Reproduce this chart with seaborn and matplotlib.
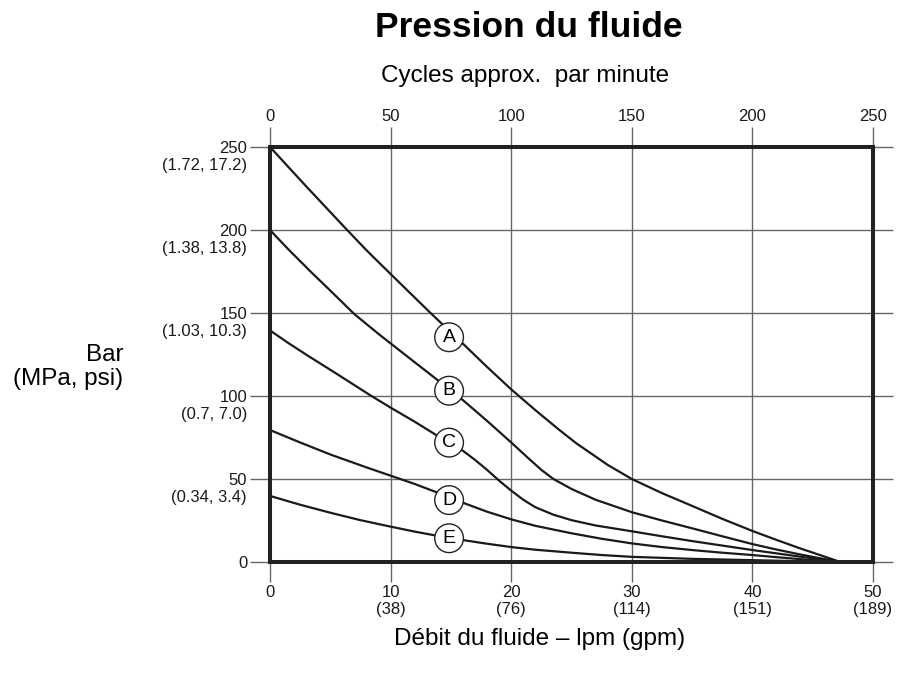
import numpy as np
import pandas as pd
import matplotlib
matplotlib.use("Agg")
import matplotlib.pyplot as plt
import seaborn as sns

# valeurs (débit en lpm, pression en bar)
x_a = [0, 3, 6.2, 8, 10, 13.1, 14.9, 16, 18, 20, 22, 24, 25.4, 28, 30, 32.5, 35, 37.5, 40, 42, 44, 46, 47.3]
y_a = [250, 226.3, 201.5, 187.8, 173.5, 151.5, 139, 131.5, 117.5, 104, 91.5, 79.5, 71.5, 58.5, 50, 41.5, 33.8, 26, 18.7, 13.3, 8.1, 3.2, 0]
x_b = [0, 1.5, 3.5, 5, 7, 9.1, 11, 14, 16, 18, 20, 21.5, 22.5, 23.5, 25, 27, 30, 32.5, 35, 37.5, 40, 42, 44, 46, 47.3]
y_b = [200, 188.5, 174, 163.5, 149.3, 136.8, 126, 109, 97.5, 85, 72, 62, 55.5, 50, 44, 37.5, 30, 25, 20.3, 15.5, 10.8, 7.5, 4.5, 1.7, 0]
x_c = [0, 1.5, 3.2, 5.5, 8.3, 10, 12, 14, 16, 17, 18, 19, 20, 21, 22, 23.5, 25, 27, 30, 32.5, 35, 37.5, 40, 42, 44, 46, 47.3]
y_c = [139.5, 132, 124, 113.5, 100.5, 93, 84.5, 75.5, 67, 61.5, 55.5, 49, 43, 37.5, 33, 28.5, 25.2, 22, 18.5, 15.5, 12.6, 9.9, 7.2, 5.2, 3.2, 1.3, 0]
x_d = [0, 2.5, 5.1, 8, 10, 12, 14, 16, 18, 20, 22, 25, 27.5, 30, 32.5, 35, 37.5, 40, 42, 44, 46, 47.3]
y_d = [79.5, 72, 64.5, 57, 52, 47, 41.5, 35.7, 30.3, 25.7, 21.8, 17.3, 14, 11.2, 9, 7.2, 5.6, 4.2, 2.9, 1.7, 0.6, 0]
x_e = [0, 2.5, 5.1, 7.5, 10, 12, 14, 16, 18, 20, 22, 25, 27.5, 30, 35, 40, 44, 47.3]
y_e = [39.8, 34.5, 29.5, 25.2, 21.3, 18.3, 15.6, 13.2, 11, 9, 7.4, 5.6, 4.2, 3.1, 1.9, 1.1, 0.45, 0]

curves = ["A", "B", "C", "D", "E"]
label_x = 14.85
label_y = [135.4, 103.2, 71.9, 37.3, 14.3]

x_ticks = [0, 10, 20, 30, 40, 50]
x_tick_labels = ["0", "10\n(38)", "20\n(76)", "30\n(114)", "40\n(151)", "50\n(189)"]
y_ticks = [0, 50, 100, 150, 200, 250]
y_sub_labels = ["", "(0.34, 3.4)", "(0.7, 7.0)", "(1.03, 10.3)", "(1.38, 13.8)", "(1.72, 17.2)"]
cycle_ticks = [0, 50, 100, 150, 200, 250]

frames = []
for name, xs, ys in zip(curves, [x_a, x_b, x_c, x_d, x_e], [y_a, y_b, y_c, y_d, y_e]):
    frames.append(pd.DataFrame({"debit": xs, "pression": ys, "courbe": name}))
df = pd.concat(frames, ignore_index=True)

sns.set_style("white")
plt.rcParams["font.family"] = ["Liberation Sans", "DejaVu Sans"]
plt.rcParams["text.color"] = "black"

fig = plt.figure(figsize=(9.08, 6.78), dpi=100)
ax = fig.add_axes([270 / 908, 1 - 562 / 678, 603 / 908, 415 / 678])

sns.lineplot(data=df, x="debit", y="pression", hue="courbe", units="courbe",
             estimator=None, sort=False, palette=["#1a1a1a"] * 5,
             linewidth=1.6, legend=False, ax=ax)

ax.set_xlim(0, 50)
ax.set_ylim(0, 250)
ax.set_xticks(x_ticks)
ax.set_xticklabels(x_tick_labels)
ax.set_yticks(y_ticks)
ax.set_yticklabels([str(v) for v in y_ticks])
ax.grid(True, color="#666666", linewidth=1)
ax.tick_params(axis="both", length=14.4, width=1, color="#666666",
               labelsize=12, labelcolor="#1a1a1a", pad=2)
ax.tick_params(axis="y", right=True, left=True)
ax.tick_params(axis="x", bottom=True)
ax.set_xlabel("")
ax.set_ylabel("")
for sp in ax.spines.values():
    sp.set_visible(True)
    sp.set_color("#222222")
    sp.set_linewidth(2.9)
    sp.set_zorder(5)

# sous-étiquettes MPa, psi
for v, lab in zip(y_ticks, y_sub_labels):
    if lab:
        ax.annotate(lab, xy=(0, v), xycoords=("axes fraction", "data"),
                    xytext=(-16.6, -13.5), textcoords="offset points",
                    ha="right", va="center", fontsize=12, color="#1a1a1a")

# axe du haut : cycles par minute
top = ax.secondary_xaxis("top", functions=(lambda q: q * 5, lambda c: c / 5))
top.set_xticks(cycle_ticks)
top.tick_params(length=14.4, width=1, color="#666666", labelsize=12,
                labelcolor="#1a1a1a", pad=2)
top.spines["top"].set_visible(False)

# repères A-E
for name, yv in zip(curves, label_y):
    ax.text(label_x, yv, name, ha="center", va="center", fontsize=14,
            color="black", zorder=6,
            bbox=dict(boxstyle="circle,pad=0.3", fc="white", ec="#222222", lw=1))

fig.text(529 / 908, 1 - 37 / 678, "Pression du fluide", ha="center", va="baseline",
         fontsize=25.5, fontweight="bold")
fig.text(525 / 908, 1 - 82 / 678, "Cycles approx.  par minute", ha="center",
         va="baseline", fontsize=17.5)
fig.text(123 / 908, 1 - 367 / 678, "Bar\n(MPa, psi)", ha="right", va="center",
         multialignment="right", fontsize=17.5, linespacing=1.15)
fig.text(540 / 908, 1 - 645 / 678, "Débit du fluide – lpm (gpm)", ha="center",
         va="baseline", fontsize=17.5)

fig.savefig("out.png", dpi=100)
